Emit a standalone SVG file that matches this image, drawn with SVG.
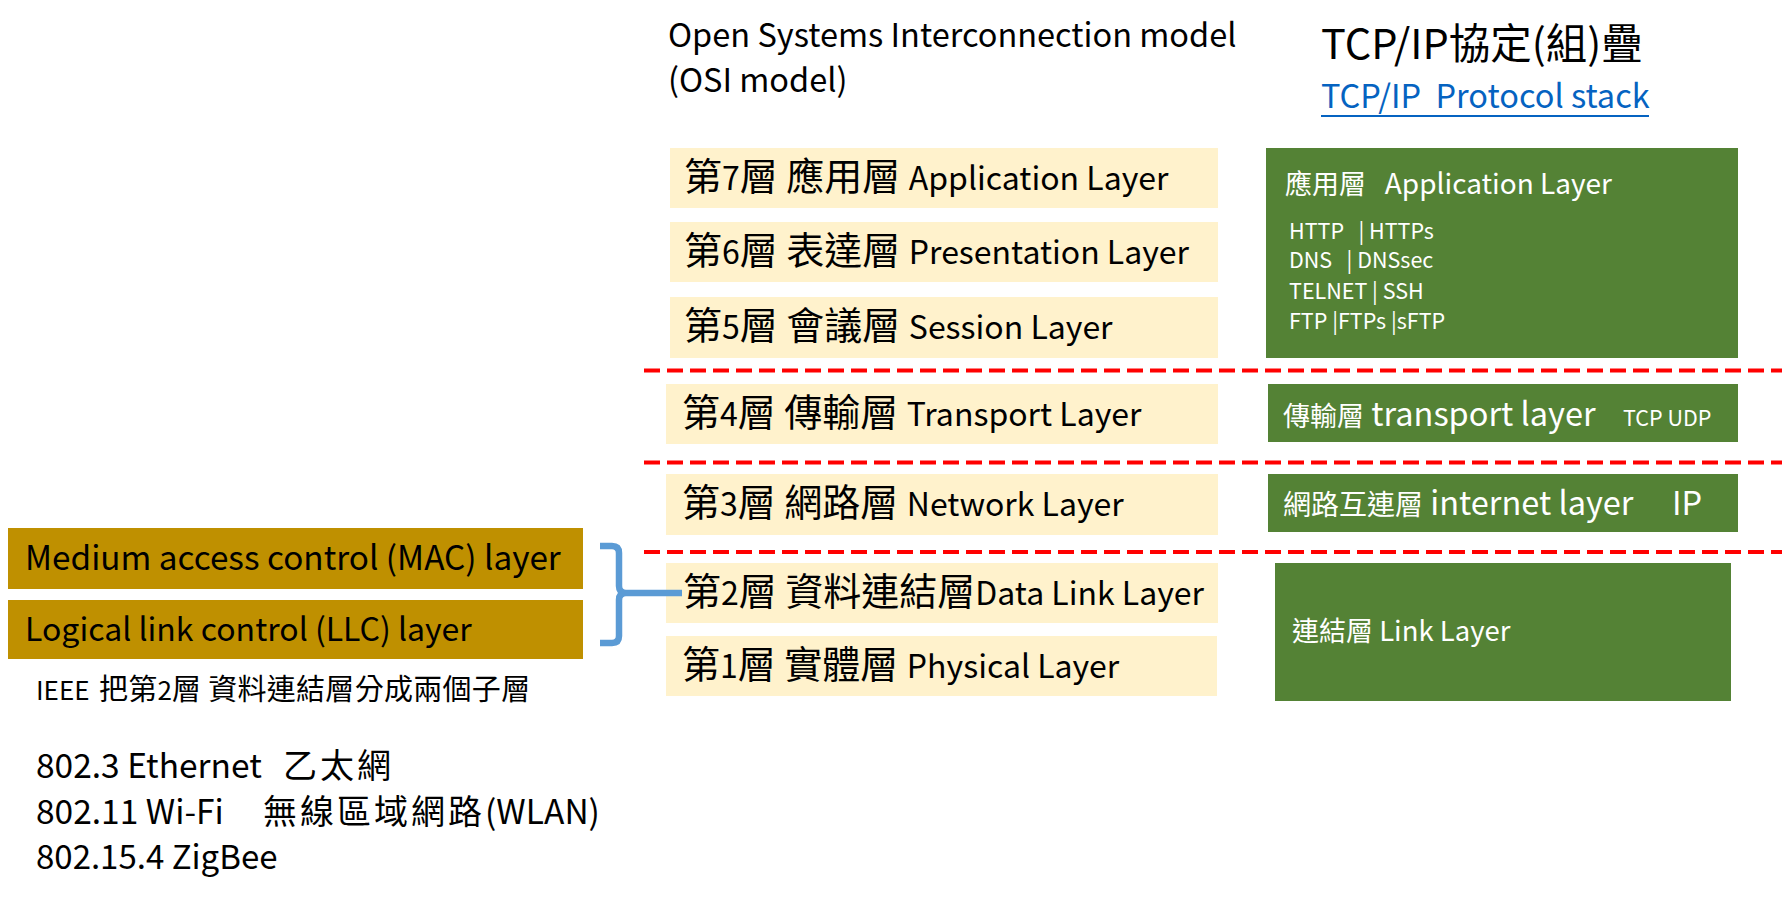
<svg xmlns="http://www.w3.org/2000/svg" width="1782" height="902" viewBox="0 0 1782 902">
<style>
text{font-family:"Noto Sans CJK TC","Noto Sans",sans-serif;white-space:pre;}
.osi{fill:#FFF2CC;}
.osit{font-size:32px;fill:#000;}
.c{font-size:38px;}
.grn{fill:#548235;}
.gt{fill:#fff;}
.mac{fill:#BF9000;}
.dash{stroke:#FF0000;stroke-width:4;stroke-dasharray:16 7;fill:none;}
</style>
<rect width="1782" height="902" fill="#fff"/>
<g id="titles">
<text x="668" y="47" font-size="32.5">Open Systems Interconnection model</text>
<text x="668" y="92" font-size="32.5">(OSI model)</text>
<text x="1321" y="59" font-size="41.5">TCP/IP協定(組)疊</text>
<text x="1321" y="108" font-size="32.5" fill="#0563C1" xml:space="preserve">TCP/IP  Protocol stack</text>
<line x1="1321" y1="116" x2="1649" y2="116" stroke="#0563C1" stroke-width="2"/>
</g>
<g id="osi7"><rect class="osi" x="670" y="148" width="548" height="60"/><text class="osit" x="684" y="190" xml:space="preserve"><tspan class="c">第</tspan>7<tspan class="c">層 應用層 </tspan>Application Layer</text></g>
<g id="osi6"><rect class="osi" x="670" y="222" width="548" height="60"/><text class="osit" x="684" y="264" xml:space="preserve"><tspan class="c">第</tspan>6<tspan class="c">層 表達層 </tspan>Presentation Layer</text></g>
<g id="osi5"><rect class="osi" x="670" y="297" width="548" height="61"/><text class="osit" x="684" y="339" xml:space="preserve"><tspan class="c">第</tspan>5<tspan class="c">層 會議層 </tspan>Session Layer</text></g>
<g id="osi4"><rect class="osi" x="666" y="384" width="552" height="60"/><text class="osit" x="682" y="426" xml:space="preserve"><tspan class="c">第</tspan>4<tspan class="c">層 傳輸層 </tspan>Transport Layer</text></g>
<g id="osi3"><rect class="osi" x="666" y="474" width="552" height="61"/><text class="osit" x="682" y="516" xml:space="preserve"><tspan class="c">第</tspan>3<tspan class="c">層 網路層 </tspan>Network Layer</text></g>
<g id="osi2"><rect class="osi" x="666" y="563" width="552" height="60"/><text class="osit" x="683" y="605" xml:space="preserve"><tspan class="c">第</tspan>2<tspan class="c">層 資料連結層</tspan>Data Link Layer</text></g>
<g id="osi1"><rect class="osi" x="666" y="636" width="551" height="60"/><text class="osit" x="682" y="678" xml:space="preserve"><tspan class="c">第</tspan>1<tspan class="c">層 實體層 </tspan>Physical Layer</text></g>
<g id="tcp-app"><rect class="grn" x="1266" y="148" width="472" height="210"/>
<text class="gt" x="1285" y="194" font-size="28" xml:space="preserve"><tspan font-size="27">應用層</tspan>   Application Layer</text>
<text class="gt" x="1289" y="239" font-size="21.5" xml:space="preserve">HTTP   | HTTPs</text>
<text class="gt" x="1289" y="268" font-size="21.5" xml:space="preserve">DNS   | DNSsec</text>
<text class="gt" x="1289" y="299" font-size="21.5" xml:space="preserve">TELNET | SSH</text>
<text class="gt" x="1289" y="329" font-size="21.5" xml:space="preserve">FTP |FTPs |sFTP</text>
</g>
<g id="tcp-transport"><rect class="grn" x="1268" y="384" width="470" height="58"/>
<text class="gt" x="1283" y="426" font-size="32.5" xml:space="preserve"><tspan font-size="27">傳輸層</tspan> transport layer</text>
<text class="gt" x="1623" y="426" font-size="21.5">TCP UDP</text>
</g>
<g id="tcp-internet"><rect class="grn" x="1268" y="474" width="470" height="58"/>
<text class="gt" x="1283" y="515" font-size="32.5" xml:space="preserve"><tspan font-size="28">網路互連層</tspan> internet layer</text>
<text class="gt" x="1672" y="515" font-size="32.5">IP</text>
</g>
<g id="tcp-link"><rect class="grn" x="1275" y="563" width="456" height="138"/>
<text class="gt" x="1292" y="641" font-size="27.5" xml:space="preserve"><tspan font-size="27">連結層</tspan> Link Layer</text>
</g>
<g id="mac"><rect class="mac" x="8" y="528" width="575" height="61"/><text x="25" y="570" font-size="33.3">Medium access control (MAC) layer</text></g>
<g id="llc"><rect class="mac" x="8" y="600" width="575" height="59"/><text x="25" y="641" font-size="32">Logical link control (LLC) layer</text></g>
<g id="notes">
<text x="36" y="700" font-size="26" xml:space="preserve">IEEE  <tspan x="99" font-size="29" letter-spacing="0.3">把第</tspan>2<tspan font-size="29" letter-spacing="0.3">層 資料連結層分成兩個子層</tspan></text>
<text x="36" y="778" font-size="33.5" xml:space="preserve">802.3 Ethernet  <tspan x="283" font-size="34" letter-spacing="3">乙太網</tspan></text>
<text x="36" y="824" font-size="33.5" xml:space="preserve">802.11 Wi-Fi    <tspan x="263" font-size="34" letter-spacing="3">無線區域網路</tspan>(WLAN)</text>
<text x="36" y="869" font-size="33">802.15.4 ZigBee</text>
</g>
<g id="connectors">
<line class="dash" x1="644" y1="370.5" x2="1782" y2="370.5"/>
<line class="dash" x1="644" y1="462.5" x2="1782" y2="462.5"/>
<line class="dash" x1="644" y1="552" x2="1782" y2="552"/>
<path d="M600 546 L612 546 Q619 546 619 553 L619 586 Q619 593 626 593 L682 593 M626 593 Q619 593 619 600 L619 636 Q619 643 612 643 L600 643" fill="none" stroke="#5B9BD5" stroke-width="6.5"/>
</g>
</svg>
